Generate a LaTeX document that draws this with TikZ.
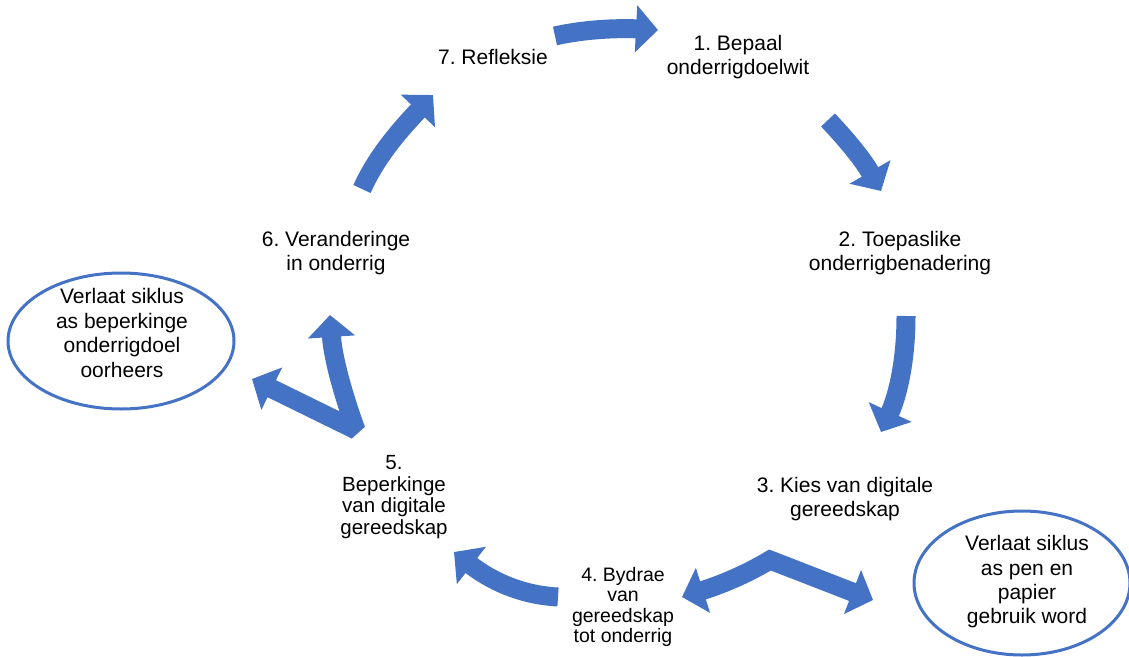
\documentclass[tikz,border=0pt]{standalone}
\usepackage{fontspec}
\setmainfont{Liberation Sans}
\usetikzlibrary{arrows.meta,shapes.geometric}
\definecolor{abl}{HTML}{4472C4}
\frenchspacing
\begin{document}
\begin{tikzpicture}[x=1pt,y=-1pt,
  lbl/.style={align=center, font=\fontsize{21}{24}\selectfont\frenchspacing, inner sep=0pt},
  blk/.style={line width=19pt, draw=abl, -{Triangle[width=46pt,length=22pt]}},
  blkboth/.style={line width=19pt, draw=abl, {Triangle[width=46pt,length=22pt]}-{Triangle[width=46pt,length=22pt]}},
  oval/.style={ellipse, draw=abl, line width=3pt, inner sep=0pt}]
\useasboundingbox (0,0) rectangle (1129,656);
% text nodes
\node[lbl] (n7) at (493,57) {7. Refleksie};
\node[lbl] (n1) at (738,57) {1. Bepaal\\onderrigdoelwit};
\node[lbl] (n2) at (900,253) {2. Toepaslike\\onderrigbenadering};
\node[lbl] (n3) at (845,499) {3. Kies van digitale\\gereedskap};
\node[lbl, font=\fontsize{19.5}{20.5}\selectfont\frenchspacing] (n4) at (623,607) {4. Bydrae\\van\\gereedskap\\tot onderrig};
\node[lbl, font=\fontsize{20.5}{21.5}\selectfont\frenchspacing] (n5) at (394,497) {5.\\Beperkinge\\van digitale\\gereedskap};
\node[lbl] (n6) at (336,253) {6. Veranderinge\\in onderrig};
% ellipses
\node[oval, minimum width=226pt, minimum height=136pt] (eL) at (121,341) {};
\node[lbl, font=\fontsize{21}{24.8}\selectfont] (tL) at (122,333) {Verlaat siklus\\as beperkinge\\onderrigdoel\\oorheers};
\node[oval, minimum width=216pt, minimum height=144pt] (eR) at (1022,583) {};
\node[lbl, font=\fontsize{21}{24.3}\selectfont] (tR) at (1027,582) {Verlaat siklus\\as pen en\\papier\\gebruik word};
% arrow anchor coordinates
\coordinate (a1s) at (555,36);  \coordinate (a1e) at (658,30);
\coordinate (a2s) at (828,120); \coordinate (a2e) at (881,191);
\coordinate (a3s) at (906,316); \coordinate (a3e) at (881,432);
\coordinate (a4l) at (682,597); \coordinate (a4p) at (770,560); \coordinate (a4r) at (873,600);
\coordinate (a5s) at (558,597); \coordinate (a5e) at (454,552);
\coordinate (a6u) at (330,315); \coordinate (a6b) at (356,430); \coordinate (a6l) at (252,379);
\coordinate (a7s) at (362,189); \coordinate (a7e) at (433,95);
% arrows
\draw[blk] (a1s) .. controls (585,29) and (620,28) .. (a1e);
\draw[blk] (a2s) .. controls (845,138) and (862,158) .. (a2e);
\draw[blk] (a3s) .. controls (906,360) and (898,395) .. (a3e);
\draw[blkboth, line join=miter] (a4l) .. controls (720,585) and (745,575) .. (a4p) -- (a4r);
\draw[blk] (a5s) .. controls (520,595) and (490,580) .. (a5e);
\draw[blkboth, line join=bevel] (a6u) .. controls (333,360) and (345,400) .. (a6b) -- (a6l);
\draw[blk] (a7s) .. controls (375,160) and (395,135) .. (a7e);
\end{tikzpicture}
\end{document}
